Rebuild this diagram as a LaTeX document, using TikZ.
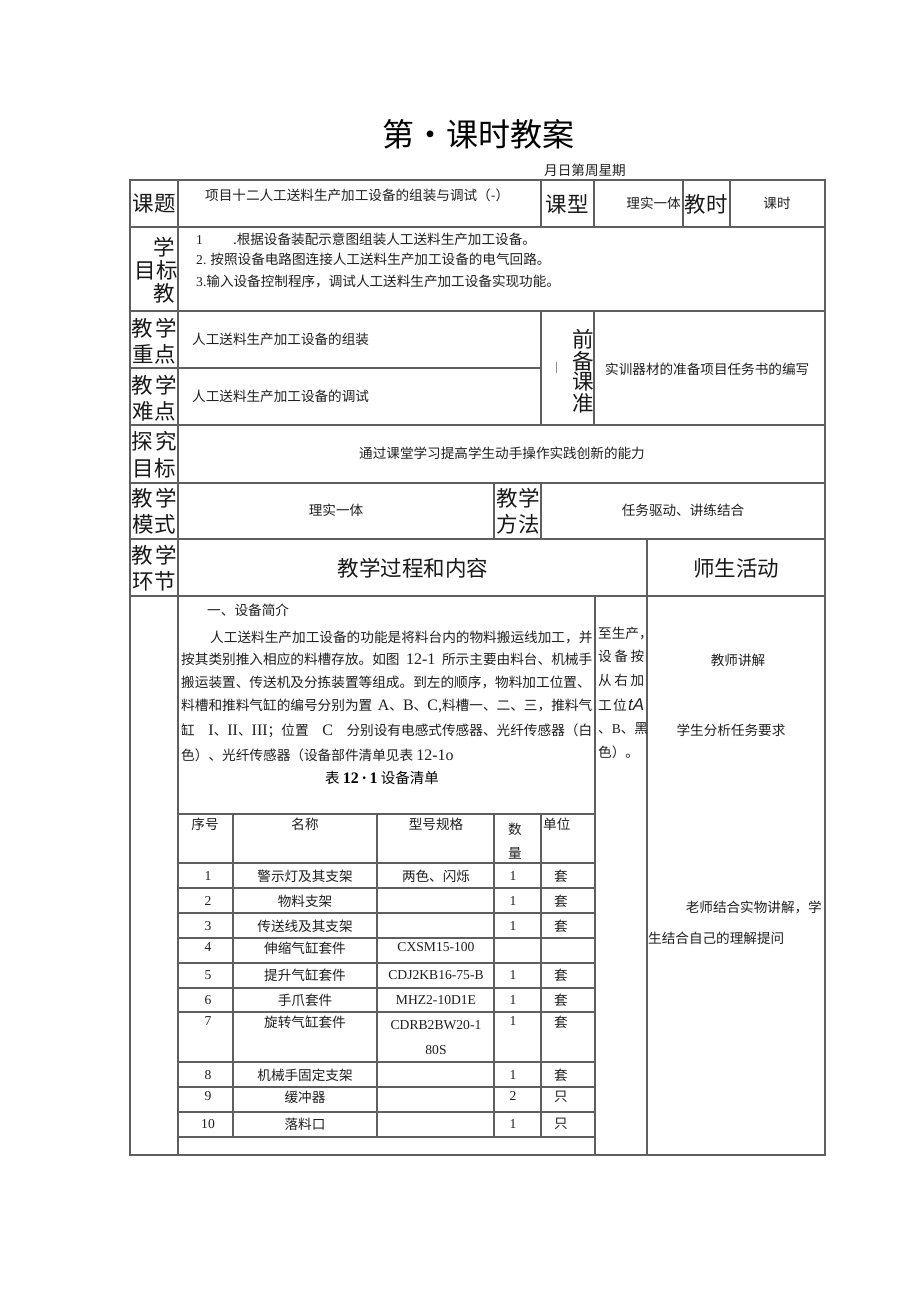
\documentclass[tikz,border=0pt]{standalone}
\usepackage{fontspec}
\setmainfont{Noto Sans CJK SC}
\newfontfamily\lat{Liberation Serif}
\newfontfamily\lsans{Liberation Sans}
\definecolor{ln}{RGB}{95,95,95}
\newcommand\myfs[1]{\fontsize{#1}{#1}\selectfont}
\newcommand\bl[1]{{\lat\myfs{16}#1}}
\begin{document}
\begin{tikzpicture}[x=1pt,y=-1pt,
 grid/.style={draw=ln,line width=1.1pt},
 tx/.style={inner sep=0pt,font=\myfs{13.6},text=black!88},
 lab/.style={inner sep=0pt,font=\myfs{21.5},text=black!90},
 body/.style={inner sep=0pt,font=\myfs{13.65},text=black!88,anchor=west},
 ]
\useasboundingbox (0,0) rectangle (920,1301);
\fill[white] (0,0) rectangle (920,1301);
% ---------- grid ----------
\foreach \y in {227,311,425,483,539,596} \draw[grid] (130,\y) -- (825,\y);
\draw[grid] (130,368) -- (541,368);
\draw[grid] (178,180) -- (178,1155);
\foreach \x in {541,594,683,730} \draw[grid] (\x,180) -- (\x,227);
\foreach \x in {541,594} \draw[grid] (\x,311) -- (\x,425);
\foreach \x in {494,541} \draw[grid] (\x,483) -- (\x,539);
\draw[grid] (647,539) -- (647,1155);
\draw[grid] (595,596) -- (595,1155);
\foreach \y in {814,863,888,913,938,963,988,1012,1062,1087,1112,1137} \draw[grid] (178,\y) -- (595,\y);
\foreach \x in {233,377,494,541} \draw[grid] (\x,814) -- (\x,1137);
\draw[grid] (130,180) rectangle (825,1155);
\draw[draw=black!45,line width=0.8pt] (556,362) -- (556,373);
% ---------- title ----------
\node[inner sep=0pt,font=\myfs{32}] (title) at (478,134) {第・课时教案};
\node[tx] (date) at (585,170) {月日第周星期};
% ---------- row 1 ----------
\node[lab] (kt) at (154,204) {课题};
\node[tx,anchor=west] (ktt) at (205,195) {项目十二人工送料生产加工设备的组装与调试（-）};
\node[lab] (kx) at (567,204) {课型};
\node[tx,anchor=east] (kxt) at (681,203) {理实一体};
\node[lab] (js) at (706,204) {教时};
\node[tx] (jst) at (777,203) {课时};
% ---------- objectives ----------
\node[lab] (ob1) at (164,247) {学};
\node[lab] (ob2) at (156,270) {目标};
\node[lab] (ob3) at (164,293) {教};
\node[tx,anchor=west] (o1) at (196,239) {{\lat 1}\hspace{30pt}.根据设备装配示意图组装人工送料生产加工设备。};
\node[tx,anchor=west] (o2) at (196,259) {{\lat 2.} 按照设备电路图连接人工送料生产加工设备的电气回路。};
\node[tx,anchor=west] (o3) at (196,281) {{\lat 3.}输入设备控制程序，调试人工送料生产加工设备实现功能。};
% ---------- key / difficult ----------
\node[lab] (zd1) at (154,328) {教\hspace{3pt}学};
\node[lab] (zd2) at (154,354) {重点};
\node[lab] (nd1) at (154,385) {教\hspace{3pt}学};
\node[lab] (nd2) at (154,411) {难点};
\node[tx,anchor=west] (zdt) at (192,339) {人工送料生产加工设备的组装};
\node[tx,anchor=west] (ndt) at (192,396) {人工送料生产加工设备的调试};
\node[lab] (q1) at (583,339) {前};
\node[lab] (q2) at (583,361) {备};
\node[lab] (q3) at (583,382) {课};
\node[lab] (q4) at (583,403) {准};
\node[tx,anchor=west] (qt) at (605,369) {实训器材的准备项目任务书的编写};
% ---------- explore ----------
\node[lab] (tj1) at (154,441) {探\hspace{3pt}究};
\node[lab] (tj2) at (154,468) {目标};
\node[tx] (tjt) at (502,453) {通过课堂学习提高学生动手操作实践创新的能力};
% ---------- mode / method ----------
\node[lab] (ms1) at (154,498) {教\hspace{3pt}学};
\node[lab] (ms2) at (154,524) {模式};
\node[tx] (mst) at (336,510) {理实一体};
\node[lab] (ff1) at (518,498) {教学};
\node[lab] (ff2) at (518,524) {方法};
\node[tx] (fft) at (683,510) {任务驱动、讲练结合};
% ---------- process header ----------
\node[lab] (hj1) at (154,555) {教\hspace{3pt}学};
\node[lab] (hj2) at (154,581) {环节};
\node[lab] (gc) at (413,568) {教学过程和内容};
\node[lab] (sh) at (736,568) {师生活动};
% ---------- content ----------
\node[body] (c0) at (207,610) {一、设备简介};
\node[body] (c1) at (210,637) {人工送料生产加工设备的功能是将料台内的物料搬运线加工，并};
\node[body] (c2) at (181,659) {\makebox[411pt][s]{按其类别推入相应的料槽存放。如图 \bl{12-1} 所示主要由料台、机械手}};
\node[body] (c3) at (181,682) {搬运装置、传送机及分拣装置等组成。到左的顺序，物料加工位置、};
\node[body] (c4) at (181,706) {\makebox[411pt][s]{料槽和推料气缸的编号分别为置 \bl{A}、\bl{B}、\bl{C,}料槽一、二、三，推料气}};
\node[body] (c5) at (181,731) {\makebox[411pt][s]{缸 \bl{I}、\bl{II}、\bl{III}；位置 \bl{C} 分别设有电感式传感器、光纤传感器（白}};
\node[body] (c6) at (181,755) {色）、光纤传感器（设备部件清单见表 \bl{12-1o}};
\node[inner sep=0pt,font=\myfs{14.5}] (cap) at (382,778) {表 {\lat\bfseries\myfs{16}12\,·\,1} 设备清单};
% overflow column
\node[tx,anchor=west] (v1) at (598,633) {至生产，};
\node[tx,anchor=west] (v2) at (598,656) {\makebox[46pt][l]{设\hfill 备\hfill 按}};
\node[tx,anchor=west] (v3) at (598,680) {\makebox[46pt][l]{从\hfill 右\hfill 加}};
\node[tx,anchor=west] (v4) at (598,705) {\makebox[46pt][l]{工\hfill 位\hfill{\lsans\itshape\myfs{17}tA}}};
\node[tx,anchor=west] (v5) at (598,729) {、{\lat B}、黑};
\node[tx,anchor=west] (v6) at (598,752) {色）。};
% right column
\node[tx] (a1) at (738,660) {教师讲解};
\node[tx] (a2) at (731,730) {学生分析任务要求};
\node[tx,anchor=east] (a3) at (822,907) {老师结合实物讲解，学};
\node[tx,anchor=west] (a4) at (648,938) {生结合自己的理解提问};
% ---------- inner table ----------
\node[tx] (h1) at (205,824) {序号};
\node[tx] (h2) at (305,824) {名称};
\node[tx] (h3) at (436,824) {型号规格};
\node[tx] (h4a) at (515,829) {数};
\node[tx] (h4b) at (515,853) {量};
\node[tx,anchor=west] (h5) at (543,824) {单位};
% rows
\node[tx] (r1a) at (208,876) {\lat 1};
\node[tx] (r1b) at (305,876) {警示灯及其支架};
\node[tx] (r1c) at (436,876) {两色、闪烁};
\node[tx] (r1d) at (513,876) {\lat 1};
\node[tx] (r1e) at (561,876) {套};
\node[tx] (r2a) at (208,901) {\lat 2};
\node[tx] (r2b) at (305,901) {物料支架};
\node[tx] (r2d) at (513,901) {\lat 1};
\node[tx] (r2e) at (561,901) {套};
\node[tx] (r3a) at (208,926) {\lat 3};
\node[tx] (r3b) at (305,926) {传送线及其支架};
\node[tx] (r3d) at (513,926) {\lat 1};
\node[tx] (r3e) at (561,926) {套};
\node[tx] (r4a) at (208,947) {\lat 4};
\node[tx] (r4b) at (305,948) {伸缩气缸套件};
\node[tx] (r4c) at (436,947) {\lat CXSM15-100};
\node[tx] (r5a) at (208,975) {\lat 5};
\node[tx] (r5b) at (305,975) {提升气缸套件};
\node[tx] (r5c) at (436,975) {\lat CDJ2KB16-75-B};
\node[tx] (r5d) at (513,975) {\lat 1};
\node[tx] (r5e) at (561,975) {套};
\node[tx] (r6a) at (208,1000) {\lat 6};
\node[tx] (r6b) at (305,1000) {手爪套件};
\node[tx] (r6c) at (436,1000) {\lat MHZ2-10D1E};
\node[tx] (r6d) at (513,1000) {\lat 1};
\node[tx] (r6e) at (561,1000) {套};
\node[tx] (r7a) at (208,1021) {\lat 7};
\node[tx] (r7b) at (305,1022) {旋转气缸套件};
\node[tx] (r7c) at (436,1025) {\lat CDRB2BW20-1};
\node[tx] (r7f) at (436,1050) {\lat 80S};
\node[tx] (r7d) at (513,1021) {\lat 1};
\node[tx] (r7e) at (561,1022) {套};
\node[tx] (r8a) at (208,1075) {\lat 8};
\node[tx] (r8b) at (305,1075) {机械手固定支架};
\node[tx] (r8d) at (513,1075) {\lat 1};
\node[tx] (r8e) at (561,1075) {套};
\node[tx] (r9a) at (208,1096) {\lat 9};
\node[tx] (r9b) at (305,1097) {缓冲器};
\node[tx] (r9d) at (513,1096) {\lat 2};
\node[tx] (r9e) at (561,1097) {只};
\node[tx] (r10a) at (208,1124) {\lat 10};
\node[tx] (r10b) at (305,1124) {落料口};
\node[tx] (r10d) at (513,1124) {\lat 1};
\node[tx] (r10e) at (561,1124) {只};
\end{tikzpicture}
\end{document}
